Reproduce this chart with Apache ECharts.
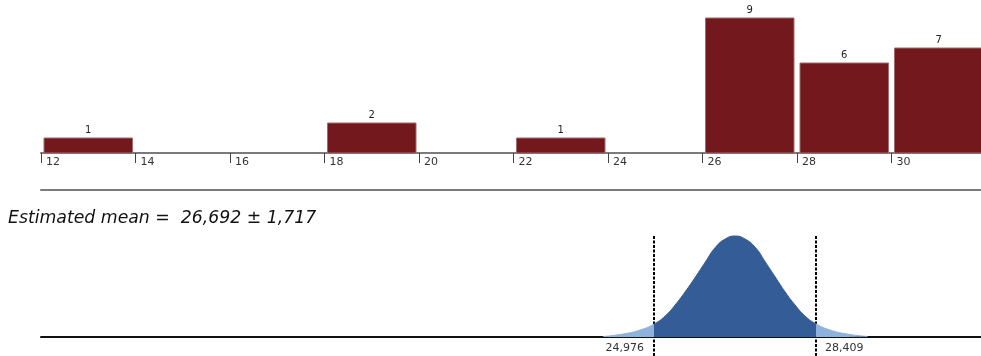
<!DOCTYPE html>
<html>
<head>
<meta charset="utf-8">
<style>
  html, body { margin: 0; padding: 0; background: #ffffff; }
  #chart { width: 981px; height: 356px; }
</style>
<script src="https://cdn.jsdelivr.net/npm/echarts@6/dist/echarts.min.js"></script>
</head>
<body>
<div id="chart"></div>
<script>
// Histogram of observations (bins of width 2)
const binStarts = [12, 14, 16, 18, 20, 22, 24, 26, 28, 30];
const binWidth = 2;
const counts = [1, 0, 0, 2, 0, 1, 0, 9, 6, 7];

// Estimate of the mean and its interval
const meanEstimate = 26.692;
const meanHalfWidth = 1.717;
const ciLow = 24.976;
const ciHigh = 28.409;

// Sampling distribution of the mean (relative density)
const curveX = [23.90, 24.32, 24.68, 24.976, 25.21, 25.42, 25.63, 25.85, 26.06, 26.27, 26.48, 26.69,
                26.90, 27.12, 27.33, 27.54, 27.75, 27.96, 28.17, 28.409, 28.70, 29.06, 29.49];
const curveY = [0.5, 3, 7, 13, 21, 32, 45, 60, 75, 89.5, 98, 101,
                98, 89.5, 75, 60, 45, 32, 21, 13, 7, 3, 0.5];

const BAR_COLOR = '#73181d';
const DARK_BLUE = '#345d97';
const LIGHT_BLUE = '#8fb2dc';
const FONT = 'DejaVu Sans';

function fmtComma(v) { return v.toFixed(3).replace('.', ','); }

const histData = binStarts.map((s, i) => [s, s + binWidth, counts[i]]);
const curveData = curveX.map((x, i) => [x, curveY[i]]);
const curvePeak = Math.max.apply(null, curveY);

const chart = echarts.init(document.getElementById('chart'), null, { renderer: 'canvas' });

chart.setOption({
  animation: false,
  backgroundColor: '#ffffff',
  title: {
    text: 'Estimated mean =  ' + fmtComma(meanEstimate) + ' \u00b1 ' + fmtComma(meanHalfWidth),
    left: 8,
    top: 210,
    padding: 0,
    textStyle: { fontFamily: FONT, fontStyle: 'italic', fontWeight: 'normal', fontSize: 17.3, color: '#111' }
  },
  grid: [
    { left: 41, width: 945, top: 18, height: 135, containLabel: false, outerBoundsMode: 'none' },
    { left: 41, width: 945, top: 190, height: 147, containLabel: false, outerBoundsMode: 'none' }
  ],
  xAxis: [
    {
      type: 'value', gridIndex: 0, min: 12, max: 32, interval: 2,
      splitLine: { show: false },
      axisLine: { show: true, lineStyle: { color: '#7b7b7b', width: 2 } },
      axisTick: { show: true, length: 10, lineStyle: { color: '#444', width: 1 } },
      axisLabel: {
        show: true, align: 'left', verticalAlign: 'top', margin: 4, padding: [0, 0, 0, 5],
        fontFamily: FONT, fontSize: 11, color: '#333', showMaxLabel: false
      }
    },
    {
      type: 'value', gridIndex: 1, min: 12, max: 32, position: 'bottom',
      splitLine: { show: false },
      axisLine: { show: true, lineStyle: { color: '#111', width: 2 } },
      axisTick: { show: false }, axisLabel: { show: false }
    },
    {
      type: 'value', gridIndex: 1, min: 12, max: 32, position: 'top',
      splitLine: { show: false },
      axisLine: { show: true, lineStyle: { color: '#7b7b7b', width: 2 } },
      axisTick: { show: false }, axisLabel: { show: false }
    }
  ],
  yAxis: [
    { type: 'value', gridIndex: 0, min: 0, max: 9, show: false },
    { type: 'value', gridIndex: 1, min: 0, max: 147, show: false }
  ],
  visualMap: {
    type: 'piecewise', show: false, dimension: 0, seriesIndex: 1,
    pieces: [
      { lt: ciLow, color: LIGHT_BLUE },
      { gte: ciLow, lte: ciHigh, color: DARK_BLUE },
      { gt: ciHigh, color: LIGHT_BLUE }
    ]
  },
  series: [
    {
      type: 'custom',
      xAxisIndex: 0, yAxisIndex: 0,
      data: histData,
      encode: { x: [0, 1], y: 2 },
      renderItem: function (params, api) {
        const n = api.value(2);
        if (!n) return null;
        const p0 = api.coord([api.value(0), n]);
        const p1 = api.coord([api.value(1), 0]);
        const inset = 3;
        const x0 = p0[0] + inset, x1 = p1[0] - inset;
        return {
          type: 'group',
          children: [
            {
              type: 'rect',
              shape: { x: x0, y: p0[1], width: x1 - x0, height: p1[1] - p0[1] },
              style: { fill: BAR_COLOR, stroke: '#a26a6c', lineWidth: 1 }
            },
            {
              type: 'text',
              style: {
                text: String(n), x: (x0 + x1) / 2, y: p0[1] - 3,
                align: 'center', verticalAlign: 'bottom',
                fontFamily: FONT, fontSize: 10, fill: '#222'
              }
            }
          ]
        };
      }
    },
    {
      type: 'line',
      xAxisIndex: 1, yAxisIndex: 1,
      data: curveData,
      smooth: 0.5,
      showSymbol: false,
      lineStyle: { width: 1 },
      areaStyle: { opacity: 1 }
    },
    {
      type: 'custom',
      xAxisIndex: 1, yAxisIndex: 1,
      clip: false,
      data: [[ciLow, 0], [ciHigh, 1]],
      encode: { x: 0 },
      renderItem: function (params, api) {
        const x = api.value(0);
        const isLow = api.value(1) === 0;
        const top = api.coord([x, curvePeak]);
        const base = api.coord([x, 0]);
        const px = Math.round(top[0]);
        return {
          type: 'group',
          children: [
            {
              type: 'line',
              shape: { x1: px, y1: top[1], x2: px, y2: base[1] + 20 },
              style: { stroke: '#000', lineWidth: 2, lineDash: [3, 1.5] }
            },
            {
              type: 'text',
              style: {
                text: fmtComma(x),
                x: isLow ? px - 10 : px + 9,
                y: base[1] + 11,
                align: isLow ? 'right' : 'left', verticalAlign: 'middle',
                fontFamily: FONT, fontSize: 11, fill: '#333'
              }
            }
          ]
        };
      }
    }
  ]
});
</script>
</body>
</html>
